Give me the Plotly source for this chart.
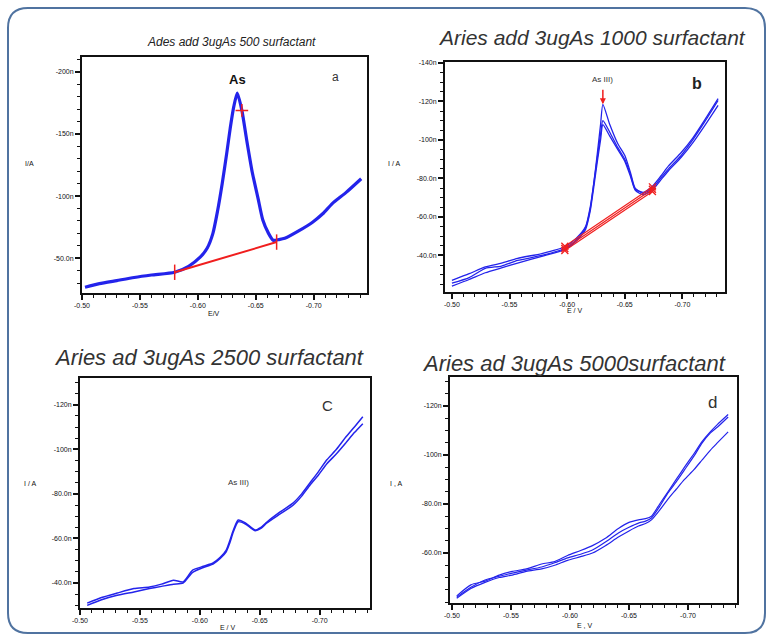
import plotly.graph_objects as go

# ---------------- data ----------------
# panel a
E_a = [-0.5026, -0.515, -0.530, -0.545, -0.560, -0.580, -0.592, -0.602, -0.608, -0.613, -0.617,
       -0.621, -0.625, -0.628, -0.631, -0.634, -0.638, -0.642, -0.647, -0.652, -0.656, -0.661,
       -0.665, -0.670, -0.675, -0.687, -0.699, -0.708, -0.716, -0.728, -0.741]
I_a = [-26.6, -29.5, -32.0, -34.5, -36.5, -38.7, -43.5, -50.8, -58.0, -70.0, -88.0,
       -110.0, -135.0, -155.0, -172.0, -183.0, -169.0, -146.0, -119.0, -98.0, -81.0, -70.0,
       -64.5, -65.0, -66.0, -72.0, -79.0, -86.0, -94.0, -103.0, -114.0]
E_a_base = [-0.580, -0.668]
I_a_base = [-38.7, -63.0]

# panel b
E_b = [-0.500, -0.515, -0.529, -0.543, -0.557, -0.578, -0.598, -0.608, -0.616, -0.620, -0.623,
       -0.626, -0.629, -0.631, -0.637, -0.644, -0.650, -0.655, -0.659, -0.666, -0.674, -0.681,
       -0.688, -0.699, -0.709, -0.720, -0.731]
I_b1 = [-25.6, -28.5, -33.3, -34.5, -37.4, -40.0, -43.6, -48.0, -54.4, -64.0, -76.9,
        -92.0, -108.0, -118.5, -108.0, -98.0, -92.0, -83.0, -75.0, -72.3, -75.0, -80.0,
        -85.0, -92.0, -100.0, -110.0, -120.5]
I_b2 = [-24.0, -27.5, -31.0, -33.5, -36.0, -39.5, -43.0, -47.5, -53.5, -63.0, -75.0,
        -88.0, -100.0, -108.0, -102.0, -95.0, -89.0, -81.0, -74.0, -71.5, -74.0, -79.0,
        -84.0, -91.0, -98.5, -108.0, -118.0]
I_b3 = [-27.0, -30.5, -34.0, -36.0, -38.5, -41.0, -44.5, -49.0, -55.0, -65.0, -77.0,
        -90.0, -103.0, -110.0, -104.0, -96.0, -90.0, -82.0, -74.5, -72.8, -76.0, -81.0,
        -86.5, -93.5, -101.0, -111.0, -121.5]
E_b_base = [-0.598, -0.674]
I_b_base1 = [-43.6, -74.4]
I_b_base2 = [-42.6, -73.2]
I_b_base3 = [-44.8, -75.6]

# panel c
E_c = [-0.506, -0.518, -0.531, -0.545, -0.558, -0.568, -0.578, -0.586, -0.594, -0.603, -0.611,
       -0.617, -0.622, -0.625, -0.628, -0.632, -0.638, -0.646, -0.651, -0.656, -0.667, -0.678,
       -0.685, -0.692, -0.699, -0.706, -0.714, -0.722, -0.729, -0.736]
I_c1 = [-31.0, -33.5, -35.5, -37.5, -38.2, -39.5, -41.3, -40.5, -45.8, -47.5, -49.0,
        -51.5, -54.8, -59.0, -63.8, -68.3, -67.0, -63.8, -65.0, -67.4, -71.9, -76.0,
        -80.0, -85.0, -90.0, -95.3, -100.0, -105.6, -110.0, -114.6]
I_c2 = [-30.0, -32.5, -34.5, -36.0, -37.5, -38.5, -39.5, -40.0, -44.8, -47.0, -48.5,
        -51.0, -54.0, -58.0, -63.0, -67.5, -66.5, -63.5, -64.5, -67.0, -71.0, -75.0,
        -79.0, -84.0, -88.5, -93.5, -98.0, -103.0, -107.5, -111.5]

# panel d
E_d = [-0.504, -0.516, -0.528, -0.540, -0.551, -0.563, -0.576, -0.587, -0.598, -0.609, -0.619,
       -0.630, -0.641, -0.650, -0.658, -0.664, -0.669, -0.676, -0.683, -0.690, -0.697, -0.705,
       -0.712, -0.719, -0.725, -0.734]
I_d1 = [-42.0, -46.0, -49.0, -50.5, -51.8, -53.0, -54.3, -56.0, -58.0, -59.5, -61.2,
        -64.5, -68.2, -70.5, -72.2, -73.0, -74.3, -79.0, -84.5, -89.0, -93.9, -99.5,
        -104.9, -109.0, -111.4, -115.5]
I_d2 = [-42.5, -47.0, -48.5, -51.0, -52.5, -53.5, -55.5, -56.5, -59.0, -61.0, -63.0,
        -66.0, -70.0, -72.5, -73.5, -74.0, -75.0, -80.0, -85.0, -90.0, -95.0, -100.5,
        -105.5, -109.5, -112.5, -116.5]
I_d3 = [-41.5, -45.5, -48.0, -50.0, -51.0, -52.5, -53.5, -55.0, -57.0, -58.5, -60.0,
        -63.0, -66.5, -69.0, -71.0, -72.0, -73.5, -77.5, -82.0, -86.0, -90.0, -94.0,
        -98.0, -102.0, -105.0, -109.4]

# ticks
x_tickvals = [-0.50, -0.55, -0.60, -0.65, -0.70]
x_ticktext = ["-0.50", "-0.55", "-0.60", "-0.65", "-0.70"]
ya_tickvals = [-200, -150, -100, -50]
ya_ticktext = ["-200n", "-150n", "-100n", "-50.0n"]
yb_tickvals = [-140, -120, -100, -80, -60, -40]
yb_ticktext = ["-140n", "-120n", "-100n", "-80.0n", "-60.0n", "-40.0n"]
yc_tickvals = [-120, -100, -80, -60, -40]
yc_ticktext = ["-120n", "-100n", "-80.0n", "-60.0n", "-40.0n"]
yd_tickvals = [-120, -100, -80, -60]
yd_ticktext = ["-120n", "-100n", "-80.0n", "-60.0n"]

titles = ["Ades add 3ugAs 500 surfactant", "Aries add 3ugAs 1000 surfactant",
          "Aries ad 3ugAs 2500 surfactant", "Aries ad 3ugAs 5000surfactant"]

# ---------------- figure ----------------
W, H = 772, 638
BLUE = "rgb(35,35,235)"
RED = "rgb(240,30,30)"

def dom(x0, x1, y0, y1):
    return [x0 / W, x1 / W], [1 - y1 / H, 1 - y0 / H]

fig = go.Figure()

panels = [
    dict(ax="x", ay="y", box=(82, 367, 57, 293), xr=[-0.50, -0.746], yr=[-22, -212],
         ytv=ya_tickvals, ytt=ya_ticktext, ydm=10),
    dict(ax="x2", ay="y2", box=(445, 725, 62, 292), xr=[-0.494, -0.737], yr=[-21, -140.5],
         ytv=yb_tickvals, ytt=yb_ticktext, ydm=5),
    dict(ax="x3", ay="y3", box=(80, 370, 378, 608), xr=[-0.50, -0.742], yr=[-28.8, -132],
         ytv=yc_tickvals, ytt=yc_ticktext, ydm=5),
    dict(ax="x4", ay="y4", box=(450, 737, 377, 603), xr=[-0.4983, -0.7415], yr=[-39.6, -131.8],
         ytv=yd_tickvals, ytt=yd_ticktext, ydm=5),
]

def line(x, y, ax, ay, color=BLUE, width=1.4):
    fig.add_trace(go.Scatter(x=x, y=y, xaxis=ax, yaxis=ay, mode="lines",
                             line=dict(color=color, width=width, shape="spline", smoothing=0.6),
                             showlegend=False, hoverinfo="skip"))

# panel a
line(E_a, I_a, "x", "y", width=3.2)
fig.add_trace(go.Scatter(x=E_a_base, y=I_a_base, xaxis="x", yaxis="y", mode="lines+markers",
                         line=dict(color=RED, width=2),
                         marker=dict(symbol="line-ns", size=11, line=dict(color=RED, width=1.5)),
                         showlegend=False, hoverinfo="skip"))
fig.add_trace(go.Scatter(x=[E_a[16]], y=[I_a[16]], xaxis="x", yaxis="y", mode="markers",
                         marker=dict(symbol="cross-thin", size=9, line=dict(color=RED, width=1.5)),
                         showlegend=False, hoverinfo="skip"))

# panel b
for Ib in (I_b1, I_b2, I_b3):
    line(E_b, Ib, "x2", "y2", width=1.3)
for Ib in (I_b_base1, I_b_base2, I_b_base3):
    fig.add_trace(go.Scatter(x=E_b_base, y=Ib, xaxis="x2", yaxis="y2", mode="lines+markers",
                             line=dict(color=RED, width=1.2),
                             marker=dict(symbol="x-thin", size=7, line=dict(color=RED, width=1.3)),
                             showlegend=False, hoverinfo="skip"))

# panel c
for Ic in (I_c1, I_c2):
    line(E_c, Ic, "x3", "y3", width=1.5)

# panel d
for Id in (I_d1, I_d2, I_d3):
    line(E_d, Id, "x4", "y4", width=1.2)

layout = dict(width=W, height=H, margin=dict(l=0, r=0, t=0, b=0, autoexpand=False),
              paper_bgcolor="white", plot_bgcolor="white", showlegend=False)

tickfont = dict(family="Liberation Sans", size=7, color="#111")
for i, p in enumerate(panels):
    xd, yd = dom(*p["box"])
    sfx = "" if i == 0 else str(i + 1)
    layout["xaxis" + sfx] = dict(
        domain=xd, range=p["xr"], anchor=p["ay"], tickvals=x_tickvals, ticktext=x_ticktext,
        automargin=False,
        showline=True, mirror=True, linecolor="#111", linewidth=2, showgrid=False, zeroline=False,
        ticks="outside", ticklen=5, tickwidth=1.5, tickcolor="#111", tickfont=tickfont,
        minor=dict(ticks="outside", dtick=0.01, ticklen=3, tickwidth=1.2, tickcolor="#111", showgrid=False))
    layout["yaxis" + sfx] = dict(
        domain=yd, range=p["yr"], anchor=p["ax"], tickvals=p["ytv"], ticktext=p["ytt"],
        automargin=False,
        showline=True, mirror=True, linecolor="#111", linewidth=2, showgrid=False, zeroline=False,
        ticks="outside", ticklen=5, tickwidth=1.5, tickcolor="#111", tickfont=tickfont,
        minor=dict(ticks="outside", dtick=p["ydm"], ticklen=3, tickwidth=1.2, tickcolor="#111", showgrid=False))

fig.update_layout(**layout)

ann = []
def pa(text, x, y, size=8, color="#333", **kw):
    ann.append(dict(text=text, x=x / W, y=1 - y / H, xref="paper", yref="paper",
                    xanchor="center", yanchor="middle",
                    showarrow=False, font=dict(family="Liberation Sans", size=size, color=color), **kw))

# titles
pa("<i>" + titles[0] + "</i>", 231, 42, size=12, color="#222")
pa("<i>" + titles[1] + "</i>", 592, 38, size=21, color="#333")
pa("<i>" + titles[2] + "</i>", 209, 357, size=22, color="#333")
pa("<i>" + titles[3] + "</i>", 574, 363, size=22, color="#333")

# panel letters
pa("a", 335, 77, size=12, color="#333")
pa("<b>b</b>", 697, 83, size=16, color="#222")
pa("C", 327, 405, size=15, color="#333")
pa("d", 712, 402, size=17, color="#333")

# axis labels
pa("I/A", 29, 163, size=7, color="#111")
pa("E/V", 214, 313, size=7, color="#111")
pa("I / A", 394, 163, size=7, color="#111")
pa("E / V", 575, 310, size=7, color="#111")
pa("I / A", 30, 483, size=7, color="#111")
pa("E / V", 228, 627, size=7, color="#111")
pa("I , A", 396, 483, size=7, color="#111")
pa("E , V", 585, 625, size=7, color="#111")

# peak labels
ann.append(dict(text="<b>As</b>", x=E_a[15], y=I_a[15], xref="x", yref="y", yshift=14,
                showarrow=False, font=dict(family="Liberation Sans", size=13, color="#111")))
ann.append(dict(text="", x=E_b[13], y=I_b1[13], xref="x2", yref="y2", ax=0, ay=-16,
                showarrow=True, arrowhead=2, arrowsize=0.8, arrowwidth=1.5, arrowcolor=RED))
ann.append(dict(text="As III)", x=E_b[13], y=I_b1[13], xref="x2", yref="y2", yshift=25,
                showarrow=False, font=dict(family="Liberation Sans", size=8, color="#333")))
ann.append(dict(text="As III)", x=-0.632, y=-85, xref="x3", yref="y3",
                showarrow=False, font=dict(family="Liberation Sans", size=8, color="#333")))

fig.update_layout(annotations=ann)

# outer rounded frame
x0, x1, y0, y1, r = 8, 765, 8, 633, 20
def px(x):
    return x / W
def py(y):
    return 1 - y / H
path = (f"M {px(x0 + r)},{py(y0)} L {px(x1 - r)},{py(y0)} Q {px(x1)},{py(y0)} {px(x1)},{py(y0 + r)} "
        f"L {px(x1)},{py(y1 - r)} Q {px(x1)},{py(y1)} {px(x1 - r)},{py(y1)} "
        f"L {px(x0 + r)},{py(y1)} Q {px(x0)},{py(y1)} {px(x0)},{py(y1 - r)} "
        f"L {px(x0)},{py(y0 + r)} Q {px(x0)},{py(y0)} {px(x0 + r)},{py(y0)} Z")
fig.add_shape(type="path", path=path, xref="paper", yref="paper",
              line=dict(color="rgb(80,115,160)", width=2))

fig.write_html("out.html", config={"displayModeBar": False},
               post_script="document.body.style.margin='0';document.body.style.overflow='hidden';")
